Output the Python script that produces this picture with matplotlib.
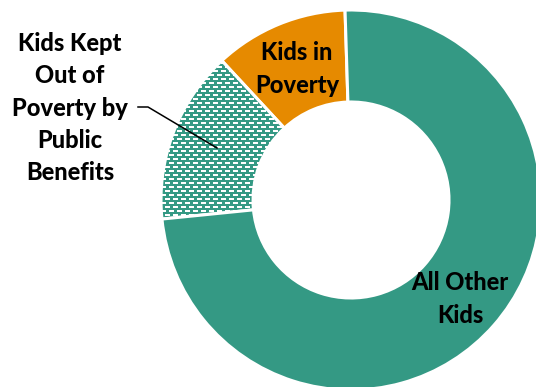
import numpy as np
import matplotlib.pyplot as plt
from matplotlib.patches import Rectangle
from matplotlib.collections import PatchCollection

labels = ["Kids in\nPoverty", "Kids Kept\nOut of\nPoverty by\nPublic\nBenefits", "All Other\nKids"]
shares = [11.4, 14.7, 73.9]
colors = ["#E68A00", "#349984", "#349984"]

W, H = 536, 387
fig = plt.figure(figsize=(W / 100, H / 100), dpi=100)
ax = fig.add_axes([0, 0, 1, 1])

cx, cy = 351, H - 200
R, r = 190, 98

wedges, _ = ax.pie(shares, colors=colors, startangle=91.8, counterclock=True,
                   center=(cx, cy), radius=R, frame=True,
                   wedgeprops=dict(width=R - r, edgecolor="white", linewidth=2.2))

# dashed brick texture on the "kept out of poverty" slice
tex = wedges[1]
bricks = []
for i, y in enumerate(np.arange(cy - 20, cy + R, 4.0)):
    off = 0 if i % 2 == 0 else 4.0
    for x in np.arange(cx - R - 8 + off, cx, 8.0):
        bricks.append(Rectangle((x, y), 4.6, 1.7))
pc = PatchCollection(bricks, facecolor="white", edgecolor="none")
ax.add_collection(pc)
pc.set_clip_path(tex)

font = dict(family=["Lato", "DejaVu Sans"], fontweight="black", fontsize=17,
            color="black", ha="center", va="center", linespacing=1.48)

ax.text(297, H - 69, labels[0], **font)
ax.text(70, H - 108, labels[1], **font)
ax.text(460, H - 299, labels[2], **font)

# leader from the left label into the textured slice
ax.plot([138, 148, 217], [H - 107, H - 107, H - 148], color="black", lw=1.1)

ax.set_xlim(0, W)
ax.set_ylim(0, H)
ax.set_aspect("equal")
ax.axis("off")

fig.savefig("out.png", dpi=100)
